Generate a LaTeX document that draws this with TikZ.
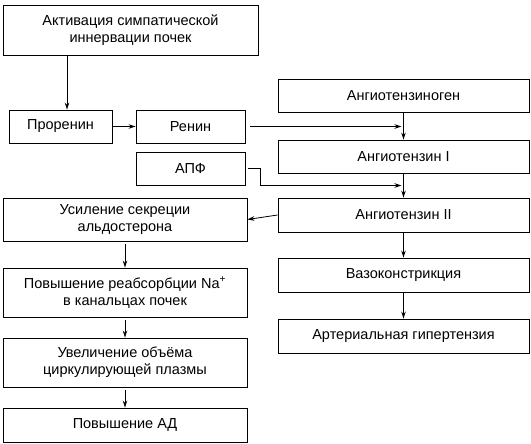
\documentclass[tikz,border=0pt]{standalone}
\usepackage{fontspec}
\setmainfont{Liberation Sans}
\usetikzlibrary{arrows.meta,calc}
\begin{document}
\begin{tikzpicture}[x=1pt,y=-1pt,
  box/.style={draw,line width=0.9pt,rectangle,align=center,inner sep=0pt,
    font=\fontsize{14.5}{17}\selectfont},
  arr/.style={-{Stealth[length=7pt,width=4.5pt]},line width=0.8pt}]
\useasboundingbox (0,0) rectangle (531,444);
% left column
\node[box,minimum width=255pt,minimum height=50pt] (act) at (130.5,30) {Активация симпатической\\иннервации почек};
\node[box,minimum width=103pt,minimum height=33pt] (pro) at (60.5,126.5) {Проренин};
\node[box,minimum width=109pt,minimum height=33pt] (ren) at (190.5,126.5) {Ренин};
\node[box,minimum width=109pt,minimum height=33pt] (apf) at (190.5,168.5) {АПФ};
\node[box,minimum width=244pt,minimum height=43pt] (ald) at (125,219.5) {Усиление секреции\\альдостерона};
\node[box,minimum width=244pt,minimum height=49pt] (na) at (125,292.5) {Повышение реабсорбции Na\textsuperscript{+}\\в канальцах почек};
\node[box,minimum width=244pt,minimum height=49pt] (vol) at (125,362.5) {Увеличение объёма\\циркулирующей плазмы};
\node[box,minimum width=244pt,minimum height=34pt] (ad) at (125,425) {Повышение АД};
% right column
\node[box,minimum width=251pt,minimum height=33pt] (agen) at (403.5,95.5) {Ангиотензиноген};
\node[box,minimum width=251pt,minimum height=33pt] (a1) at (403.5,156.5) {Ангиотензин I};
\node[box,minimum width=251pt,minimum height=34pt] (a2) at (403.5,215) {Ангиотензин II};
\node[box,minimum width=251pt,minimum height=34pt] (vaso) at (403.5,275) {Вазоконстрикция};
\node[box,minimum width=251pt,minimum height=34pt] (ag) at (403.5,336) {Артериальная гипертензия};
% helper coordinates
\coordinate (proin) at ($(pro.north)+(6.5,0)$);
\coordinate (renend) at ($(agen.south)!0.5!(a1.north)+(-2,0)$);
\coordinate (apfend) at ($(a1.south)!0.5!(a2.north)+(-2,0)$);
\coordinate (apfbend) at ($(apf.east)+(15,0)$);
% connectors
\draw[arr] (act.south -| proin) -- (proin);
\draw[arr] (pro.east) -- (ren.west);
\draw[arr] ([xshift=5pt]ren.east) -- (ren.east -| renend);
\draw[arr] ([xshift=3pt]apf.east) -- (apfbend) |- (apfend);
\draw[arr] (agen.south) -- (a1.north);
\draw[arr] (a1.south) -- (a2.north);
\draw[arr] (a2.south) -- (vaso.north);
\draw[arr] (vaso.south) -- (ag.north);
\draw[arr] (a2.west) -- (ald.east);
\draw[arr,shorten <=3pt] (ald.south) -- (na.north);
\draw[arr,shorten <=3pt] (na.south) -- (vol.north);
\draw[arr,shorten <=3pt] (vol.south) -- (ad.north);
\end{tikzpicture}
\end{document}
